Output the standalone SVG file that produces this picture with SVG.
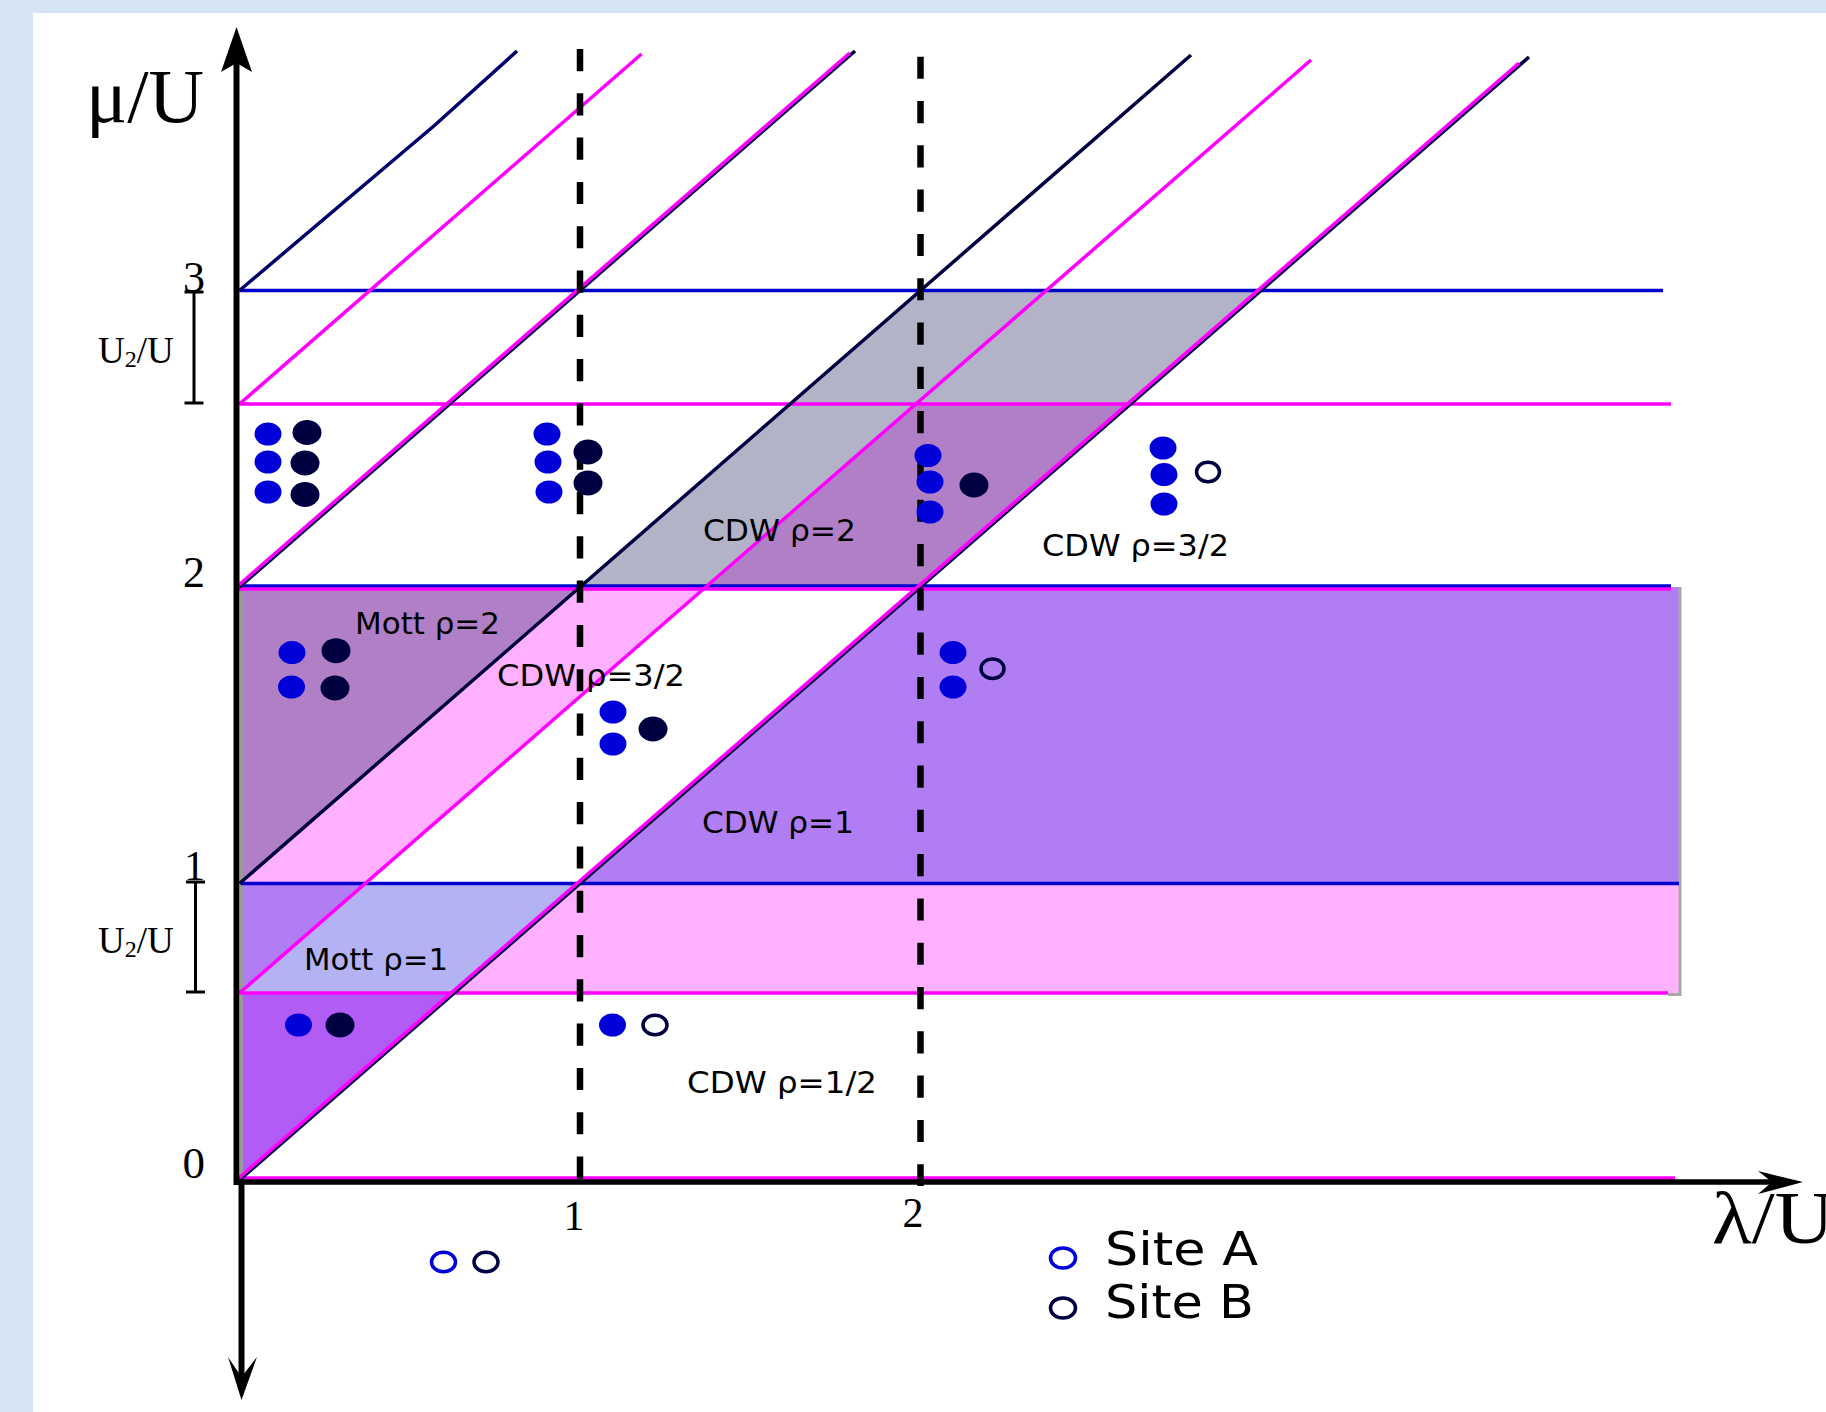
<svg xmlns="http://www.w3.org/2000/svg" width="1826" height="1412" viewBox="0 0 1826 1412">
<style>
.nv{stroke:#000040;stroke-width:3.5;fill:none}
.nv3{stroke:#00006a;stroke-width:3.5;fill:none}
.mg{stroke:#ff00ff;stroke-width:3.5;fill:none}
.bl{stroke:#0000cc;stroke-width:3.5;fill:none}
.dash{stroke:#000;stroke-width:6.5;stroke-dasharray:22.15 22.15;fill:none}
.ax{stroke:#000;stroke-width:6;fill:none}
.bar{stroke:#000;stroke-width:3;fill:none}
.lbl{font-family:"DejaVu Sans","Liberation Sans",sans-serif;font-size:31px;fill:#000}
.leg{font-family:"DejaVu Sans","Liberation Sans",sans-serif;font-size:46px;fill:#000}
.ser{font-family:"Liberation Serif","Times New Roman",serif;fill:#000}
.dA{fill:#0000d8}
.dB{fill:#000040}
.oA{fill:none;stroke:#0000d8;stroke-width:3.5}
.oB{fill:none;stroke:#000040;stroke-width:3.5}
</style>
<rect x="0" y="0" width="1826" height="1412" fill="#d5e5f5"/>
<rect x="33" y="13" width="1793" height="1399" fill="#ffffff"/>

<g id="regions">
  <polygon id="mott1-violet" points="241,1178 241,993 454,993" fill="#b15cf5"/>
  <polygon id="purple-left" points="241,993 365,883.5 241,883.5" fill="#b07ef2"/>
  <polygon id="mott1" points="241,993 365,883.5 580,883.5 454,993" fill="#b3b3f3"/>
  <polygon id="pink-band" points="454,993 580,883.5 1680,883.5 1680,993" fill="#ffb0ff"/>
  <polygon id="cdw1" points="580,883.5 920.5,587 1680,587 1680,883.5" fill="#b07ef2"/>
  <polygon id="pink-strip" points="241,883.5 580,587 705.7,587 365.2,883.5" fill="#ffb0ff"/>
  <polygon id="mott2" points="241,587 580,587 241,883.5" fill="#b07fc6"/>
  <polygon id="cdw2" points="580,587 920.5,290.5 1261,290.5 920.5,587" fill="#b3b3c8"/>
  <polygon id="cdw2-over" points="705.7,587 916,404 1130.6,404 920.5,587" fill="#b07fc6"/>
  <polyline points="1680,587 1680,994.5 1668,994.5" fill="none" stroke="#a8a8a8" stroke-width="3"/>
  <line x1="241.5" y1="589" x2="241.5" y2="1180" stroke="#999" stroke-width="3"/>
</g>

<g id="connectors">
  <line class="bl" x1="239.5" y1="290.5" x2="1663" y2="290.5"/>
  <line class="mg" x1="239.5" y1="404" x2="1671" y2="404"/>
  <line class="bl" x1="239.5" y1="586" x2="1671" y2="586"/>
  <line class="mg" x1="236" y1="589" x2="1671" y2="589"/>
  <line class="bl" x1="241" y1="883.5" x2="1679" y2="883.5"/>
  <line class="mg" x1="239.5" y1="993" x2="1668" y2="993"/>
  <line class="mg" x1="236" y1="1178" x2="1675" y2="1178"/>
  <line class="nv" x1="239.5" y1="1180" x2="1529" y2="57"/>
  <line class="mg" x1="236.5" y1="1180" x2="1519" y2="63"/>
  <line class="nv" x1="239.5" y1="883.5" x2="1191" y2="55"/>
  <line class="mg" x1="239.5" y1="993" x2="1311" y2="60"/>
  <line class="nv" x1="239.5" y1="587" x2="855" y2="51"/>
  <line class="mg" x1="236.5" y1="587" x2="849.7" y2="53"/>
  <line class="mg" x1="239.5" y1="404" x2="641.5" y2="54"/>
  <polyline class="nv3" points="239.5,290.5 435,125 517,51"/>
  <line class="dash" x1="580" y1="49" x2="580" y2="1179"/>
  <line class="dash" x1="920.5" y1="56.7" x2="920.5" y2="1186"/>
  <line class="ax" x1="236.5" y1="60" x2="236.5" y2="1185"/>
  <path d="M236.5,27 L252,72 L236.5,63 L221,72 Z" fill="#000"/>
  <line class="ax" x1="241.5" y1="1182" x2="241.5" y2="1380"/>
  <path d="M241.5,1400 L257,1357 L241.5,1377 L228,1357 Z" fill="#000"/>
  <line x1="236" y1="1182" x2="1780" y2="1182" stroke="#000" stroke-width="5.5"/>
  <path d="M1803,1182 L1758,1171 L1772,1182 L1758,1194 Z" fill="#000"/>
  <path class="bar" d="M194,292 V403 M184.5,403 H203.5 M184.5,292 H203.5"/>
  <path class="bar" d="M195.5,882 V992 M186,992 H205 M186,882 H205"/>
</g>

<g id="axis-labels">
  <text class="ser" x="86" y="122" font-size="76" textLength="118" lengthAdjust="spacingAndGlyphs">μ/U</text>
  <text class="ser" x="1712" y="1243" font-size="73" textLength="122" lengthAdjust="spacingAndGlyphs">λ/U</text>
  <text class="ser" x="205" y="292" font-size="44" text-anchor="end">3</text>
  <text class="ser" x="205" y="587" font-size="44" text-anchor="end">2</text>
  <text class="ser" x="205" y="880" font-size="42" text-anchor="end">1</text>
  <text class="ser" x="205" y="1178" font-size="45" text-anchor="end">0</text>
  <text class="ser" x="574" y="1230" font-size="42" text-anchor="middle">1</text>
  <text class="ser" x="913" y="1227" font-size="42" text-anchor="middle">2</text>
  <text class="ser" x="98" y="363" font-size="37">U<tspan font-size="24" dy="4">2</tspan><tspan dy="-4">/U</tspan></text>
  <text class="ser" x="98" y="953" font-size="37">U<tspan font-size="24" dy="4">2</tspan><tspan dy="-4">/U</tspan></text>
</g>

<g id="phase-labels">
  <text class="lbl" x="355" y="634" textLength="145" lengthAdjust="spacingAndGlyphs">Mott ρ=2</text>
  <text class="lbl" x="497" y="686" textLength="188" lengthAdjust="spacingAndGlyphs">CDW ρ=3/2</text>
  <text class="lbl" x="304" y="969.5" textLength="144" lengthAdjust="spacingAndGlyphs">Mott ρ=1</text>
  <text class="lbl" x="703" y="540.5" textLength="153" lengthAdjust="spacingAndGlyphs">CDW ρ=2</text>
  <text class="lbl" x="1042" y="556" textLength="187" lengthAdjust="spacingAndGlyphs">CDW ρ=3/2</text>
  <text class="lbl" x="702" y="832.5" textLength="152" lengthAdjust="spacingAndGlyphs">CDW ρ=1</text>
  <text class="lbl" x="687" y="1093" textLength="190" lengthAdjust="spacingAndGlyphs">CDW ρ=1/2</text>
</g>

<g id="occupations">
  <g id="occ-ul">
    <ellipse class="dA" cx="268" cy="434" rx="13.5" ry="11.5"/>
    <ellipse class="dA" cx="268" cy="462" rx="13.5" ry="11.5"/>
    <ellipse class="dA" cx="268" cy="492" rx="13.5" ry="11.5"/>
    <ellipse class="dB" cx="307" cy="432.5" rx="14.5" ry="12.5"/>
    <ellipse class="dB" cx="305" cy="463" rx="14.5" ry="12.5"/>
    <ellipse class="dB" cx="305" cy="494.5" rx="14.5" ry="12.5"/>
  </g>
  <g id="occ-b">
    <ellipse class="dA" cx="547" cy="434" rx="13.5" ry="11.5"/>
    <ellipse class="dA" cx="548" cy="462" rx="13.5" ry="11.5"/>
    <ellipse class="dA" cx="549" cy="492" rx="13.5" ry="11.5"/>
    <ellipse class="dB" cx="588" cy="452" rx="14.5" ry="12.5"/>
    <ellipse class="dB" cx="588" cy="483" rx="14.5" ry="12.5"/>
  </g>
  <g id="occ-c">
    <ellipse class="dA" cx="928" cy="455.5" rx="13.5" ry="11.5"/>
    <ellipse class="dA" cx="930" cy="482" rx="13.5" ry="11.5"/>
    <ellipse class="dA" cx="930" cy="512" rx="13.5" ry="11.5"/>
    <ellipse class="dB" cx="974" cy="485" rx="14.5" ry="12.5"/>
  </g>
  <g id="occ-d">
    <ellipse class="dA" cx="1163" cy="448" rx="13.5" ry="11.5"/>
    <ellipse class="dA" cx="1164" cy="474.6" rx="13.5" ry="11.5"/>
    <ellipse class="dA" cx="1164" cy="504" rx="13.5" ry="11.5"/>
    <ellipse class="oB" cx="1208" cy="472" rx="11.5" ry="9.8"/>
  </g>
  <g id="occ-e">
    <ellipse class="dA" cx="292" cy="652.6" rx="13.5" ry="11.5"/>
    <ellipse class="dA" cx="291.5" cy="687" rx="13.5" ry="11.5"/>
    <ellipse class="dB" cx="336" cy="650.7" rx="14.5" ry="12.5"/>
    <ellipse class="dB" cx="335" cy="688" rx="14.5" ry="12.5"/>
  </g>
  <g id="occ-f">
    <ellipse class="dA" cx="613" cy="712" rx="13.5" ry="11.5"/>
    <ellipse class="dA" cx="613" cy="744" rx="13.5" ry="11.5"/>
    <ellipse class="dB" cx="653" cy="729" rx="14.5" ry="12.5"/>
  </g>
  <g id="occ-g">
    <ellipse class="dA" cx="953" cy="652.6" rx="13.5" ry="11.5"/>
    <ellipse class="dA" cx="953" cy="687" rx="13.5" ry="11.5"/>
    <ellipse class="oB" cx="992.5" cy="668.7" rx="11.5" ry="9.8"/>
  </g>
  <g id="occ-h">
    <ellipse class="dA" cx="298.5" cy="1025" rx="13.5" ry="11.5"/>
    <ellipse class="dB" cx="340" cy="1025" rx="14.5" ry="12.5"/>
  </g>
  <g id="occ-i">
    <ellipse class="dA" cx="612.5" cy="1025" rx="13.5" ry="11.5"/>
    <ellipse class="oB" cx="655" cy="1025" rx="12" ry="9.8"/>
  </g>
  <g id="occ-j">
    <ellipse class="oA" cx="443.5" cy="1262" rx="12" ry="9.8"/>
    <ellipse class="oB" cx="486" cy="1262" rx="12" ry="9.8"/>
  </g>
</g>

<g id="legend">
  <ellipse class="oA" cx="1063" cy="1258" rx="12.5" ry="10"/>
  <text class="leg" x="1105" y="1265" textLength="153" lengthAdjust="spacingAndGlyphs">Site A</text>
  <ellipse class="oB" cx="1063" cy="1308" rx="12.5" ry="10"/>
  <text class="leg" x="1105" y="1318" textLength="149" lengthAdjust="spacingAndGlyphs">Site B</text>
</g>
</svg>
